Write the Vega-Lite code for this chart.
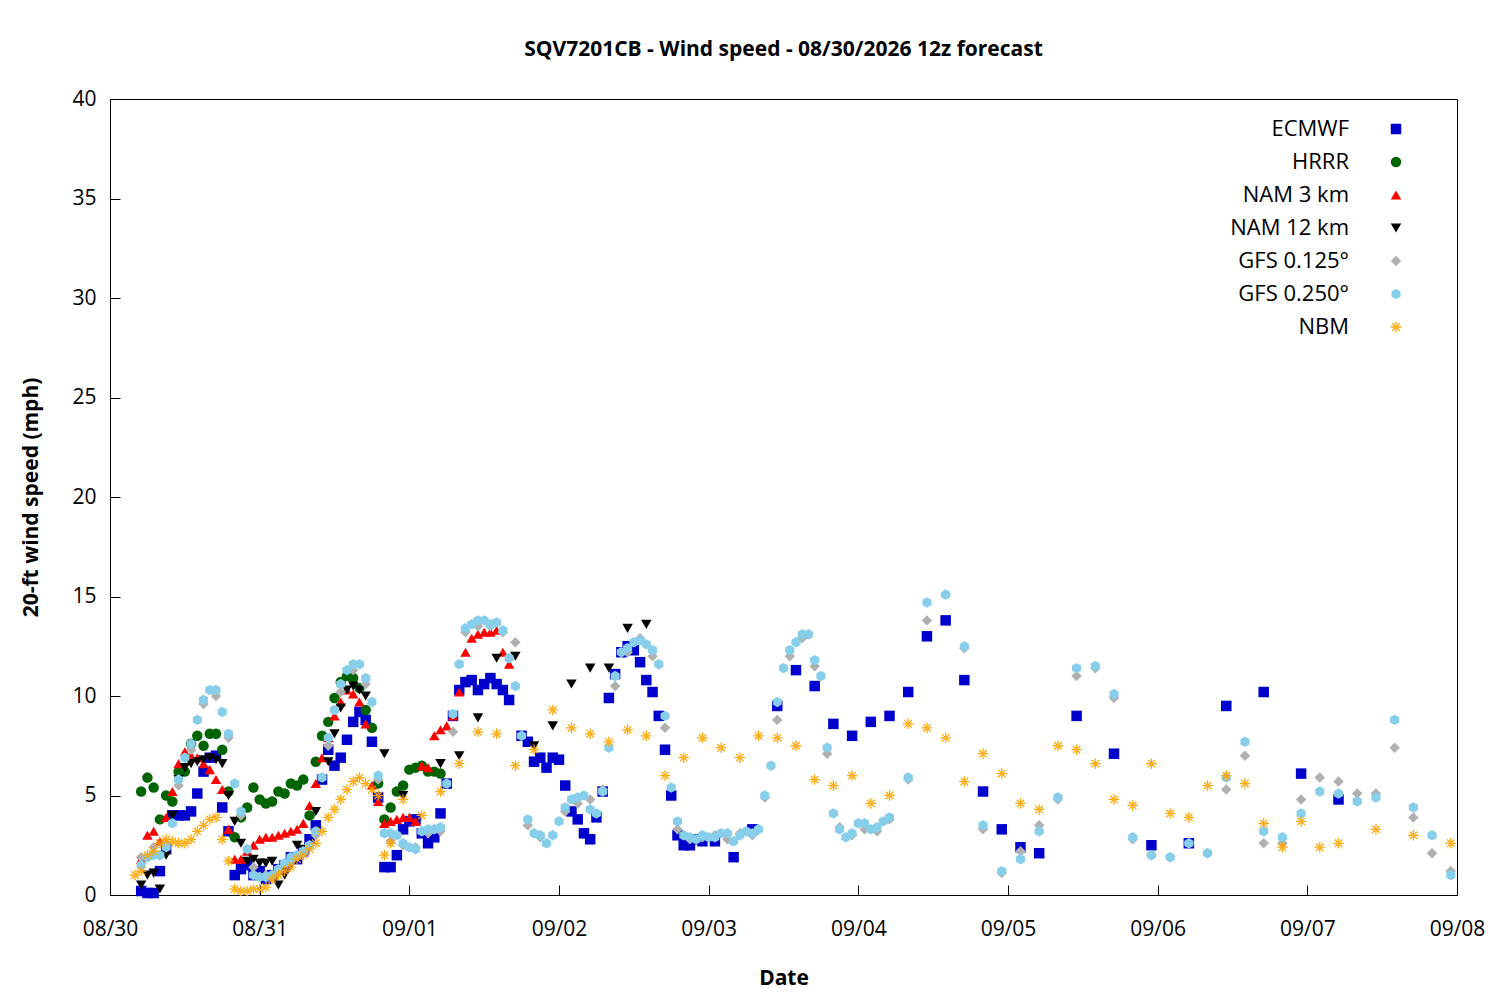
{
  "$schema": "https://vega.github.io/schema/vega-lite/v6.json",
  "width": 1347,
  "height": 796,
  "autosize": "none",
  "padding": {"left": 110, "top": 99, "right": 43, "bottom": 105},
  "background": "white",
  "title": {"text": "SQV7201CB - Wind speed - 08/30/2026 12z forecast", "font": "Open Sans", "fontSize": 21, "fontWeight": "bold", "offset": 28},
  "data": {"values": [
{"m":"E","t":5,"v":0.2},{"m":"E","t":6,"v":0.1},{"m":"E","t":7,"v":0.1},{"m":"E","t":8,"v":1.2},{"m":"E","t":9,"v":2.3},{"m":"E","t":10,"v":4.0},{"m":"E","t":11,"v":4.0},{"m":"E","t":12,"v":4.0},{"m":"E","t":13,"v":4.2},{"m":"E","t":14,"v":5.1},{"m":"E","t":15,"v":6.2},{"m":"E","t":16,"v":6.9},{"m":"E","t":17,"v":7.0},{"m":"E","t":18,"v":4.4},{"m":"E","t":19,"v":3.2},{"m":"E","t":20,"v":1.0},{"m":"E","t":21,"v":1.3},{"m":"E","t":22,"v":1.5},{"m":"E","t":23,"v":1.0},{"m":"E","t":24,"v":1.2},{"m":"E","t":25,"v":0.8},{"m":"E","t":26,"v":1.0},{"m":"E","t":27,"v":1.3},{"m":"E","t":28,"v":1.5},{"m":"E","t":29,"v":1.9},{"m":"E","t":30,"v":1.8},{"m":"E","t":31,"v":2.2},{"m":"E","t":32,"v":2.8},{"m":"E","t":33,"v":3.5},{"m":"E","t":34,"v":5.8},{"m":"E","t":35,"v":7.3},{"m":"E","t":36,"v":6.5},{"m":"E","t":37,"v":6.9},{"m":"E","t":38,"v":7.8},{"m":"E","t":39,"v":8.7},{"m":"E","t":40,"v":9.2},{"m":"E","t":41,"v":8.8},{"m":"E","t":42,"v":7.7},{"m":"E","t":43,"v":4.9},{"m":"E","t":44,"v":1.4},{"m":"E","t":45,"v":1.4},{"m":"E","t":46,"v":2.0},{"m":"E","t":47,"v":3.3},{"m":"E","t":48,"v":3.7},{"m":"E","t":49,"v":3.8},{"m":"E","t":50,"v":3.1},{"m":"E","t":51,"v":2.6},{"m":"E","t":52,"v":2.9},{"m":"E","t":53,"v":4.1},{"m":"E","t":54,"v":5.6},{"m":"E","t":55,"v":9.0},{"m":"E","t":56,"v":10.3},{"m":"E","t":57,"v":10.7},{"m":"E","t":58,"v":10.8},{"m":"E","t":59,"v":10.3},{"m":"E","t":60,"v":10.6},{"m":"E","t":61,"v":10.9},{"m":"E","t":62,"v":10.6},{"m":"E","t":63,"v":10.3},{"m":"E","t":64,"v":9.8},{"m":"E","t":66,"v":8.0},{"m":"E","t":67,"v":7.7},{"m":"E","t":68,"v":6.7},{"m":"E","t":69,"v":6.9},{"m":"E","t":70,"v":6.4},{"m":"E","t":71,"v":6.9},{"m":"E","t":72,"v":6.8},{"m":"E","t":73,"v":5.5},{"m":"E","t":74,"v":4.2},{"m":"E","t":75,"v":3.8},{"m":"E","t":76,"v":3.1},{"m":"E","t":77,"v":2.8},{"m":"E","t":78,"v":3.9},{"m":"E","t":79,"v":5.2},{"m":"E","t":80,"v":9.9},{"m":"E","t":81,"v":11.1},{"m":"E","t":82,"v":12.2},{"m":"E","t":83,"v":12.5},{"m":"E","t":84,"v":12.3},{"m":"E","t":85,"v":11.7},{"m":"E","t":86,"v":10.8},{"m":"E","t":87,"v":10.2},{"m":"E","t":88,"v":9.0},{"m":"E","t":89,"v":7.3},{"m":"E","t":90,"v":5.0},{"m":"E","t":91,"v":3.0},{"m":"E","t":92,"v":2.5},{"m":"E","t":93,"v":2.5},{"m":"E","t":94,"v":2.8},{"m":"E","t":95,"v":2.7},{"m":"E","t":97,"v":2.7},{"m":"E","t":100,"v":1.9},{"m":"E","t":103,"v":3.3},{"m":"E","t":107,"v":9.5},{"m":"E","t":110,"v":11.3},{"m":"E","t":113,"v":10.5},{"m":"E","t":116,"v":8.6},{"m":"E","t":119,"v":8.0},{"m":"E","t":122,"v":8.7},{"m":"E","t":125,"v":9.0},{"m":"E","t":128,"v":10.2},{"m":"E","t":131,"v":13.0},{"m":"E","t":134,"v":13.8},{"m":"E","t":137,"v":10.8},{"m":"E","t":140,"v":5.2},{"m":"E","t":143,"v":3.3},{"m":"E","t":146,"v":2.4},{"m":"E","t":149,"v":2.1},{"m":"E","t":155,"v":9.0},{"m":"E","t":161,"v":7.1},{"m":"E","t":167,"v":2.5},{"m":"E","t":173,"v":2.6},{"m":"E","t":179,"v":9.5},{"m":"E","t":185,"v":10.2},{"m":"E","t":191,"v":6.1},{"m":"E","t":197,"v":4.8},
{"m":"H","t":5,"v":5.2},{"m":"H","t":6,"v":5.9},{"m":"H","t":7,"v":5.4},{"m":"H","t":8,"v":3.8},{"m":"H","t":9,"v":5.0},{"m":"H","t":10,"v":4.7},{"m":"H","t":11,"v":6.2},{"m":"H","t":12,"v":6.2},{"m":"H","t":13,"v":7.6},{"m":"H","t":14,"v":8.0},{"m":"H","t":15,"v":7.5},{"m":"H","t":16,"v":8.1},{"m":"H","t":17,"v":8.1},{"m":"H","t":18,"v":7.3},{"m":"H","t":19,"v":5.2},{"m":"H","t":20,"v":2.9},{"m":"H","t":21,"v":3.9},{"m":"H","t":22,"v":4.4},{"m":"H","t":23,"v":5.4},{"m":"H","t":24,"v":4.8},{"m":"H","t":25,"v":4.6},{"m":"H","t":26,"v":4.7},{"m":"H","t":27,"v":5.2},{"m":"H","t":28,"v":5.1},{"m":"H","t":29,"v":5.6},{"m":"H","t":30,"v":5.5},{"m":"H","t":31,"v":5.8},{"m":"H","t":32,"v":4.0},{"m":"H","t":33,"v":6.7},{"m":"H","t":34,"v":8.0},{"m":"H","t":35,"v":8.7},{"m":"H","t":36,"v":9.9},{"m":"H","t":37,"v":10.7},{"m":"H","t":38,"v":11.0},{"m":"H","t":39,"v":10.9},{"m":"H","t":40,"v":10.4},{"m":"H","t":41,"v":9.3},{"m":"H","t":42,"v":8.4},{"m":"H","t":43,"v":5.6},{"m":"H","t":44,"v":3.8},{"m":"H","t":45,"v":4.4},{"m":"H","t":46,"v":5.2},{"m":"H","t":47,"v":5.5},{"m":"H","t":48,"v":6.3},{"m":"H","t":49,"v":6.4},{"m":"H","t":50,"v":6.5},{"m":"H","t":51,"v":6.2},{"m":"H","t":52,"v":6.2},{"m":"H","t":53,"v":6.1},
{"m":"N3","t":5,"v":1.8},{"m":"N3","t":6,"v":3.0},{"m":"N3","t":7,"v":3.2},{"m":"N3","t":8,"v":2.7},{"m":"N3","t":9,"v":3.9},{"m":"N3","t":10,"v":5.2},{"m":"N3","t":11,"v":6.6},{"m":"N3","t":12,"v":7.2},{"m":"N3","t":13,"v":7.0},{"m":"N3","t":14,"v":6.9},{"m":"N3","t":15,"v":6.6},{"m":"N3","t":16,"v":6.3},{"m":"N3","t":17,"v":5.8},{"m":"N3","t":18,"v":5.3},{"m":"N3","t":19,"v":3.3},{"m":"N3","t":20,"v":1.8},{"m":"N3","t":21,"v":1.8},{"m":"N3","t":22,"v":2.2},{"m":"N3","t":23,"v":2.5},{"m":"N3","t":24,"v":2.8},{"m":"N3","t":25,"v":2.9},{"m":"N3","t":26,"v":2.9},{"m":"N3","t":27,"v":3.0},{"m":"N3","t":28,"v":3.1},{"m":"N3","t":29,"v":3.2},{"m":"N3","t":30,"v":3.3},{"m":"N3","t":31,"v":3.6},{"m":"N3","t":32,"v":4.5},{"m":"N3","t":33,"v":5.6},{"m":"N3","t":34,"v":6.9},{"m":"N3","t":35,"v":7.9},{"m":"N3","t":36,"v":9.0},{"m":"N3","t":37,"v":9.7},{"m":"N3","t":38,"v":10.3},{"m":"N3","t":39,"v":10.1},{"m":"N3","t":40,"v":9.7},{"m":"N3","t":41,"v":8.6},{"m":"N3","t":42,"v":5.5},{"m":"N3","t":43,"v":4.7},{"m":"N3","t":44,"v":3.6},{"m":"N3","t":45,"v":3.7},{"m":"N3","t":46,"v":3.8},{"m":"N3","t":47,"v":3.9},{"m":"N3","t":48,"v":3.9},{"m":"N3","t":49,"v":3.7},{"m":"N3","t":50,"v":6.5},{"m":"N3","t":51,"v":6.4},{"m":"N3","t":52,"v":8.0},{"m":"N3","t":53,"v":8.3},{"m":"N3","t":54,"v":8.5},{"m":"N3","t":55,"v":9.0},{"m":"N3","t":56,"v":10.2},{"m":"N3","t":57,"v":12.2},{"m":"N3","t":58,"v":12.9},{"m":"N3","t":59,"v":13.1},{"m":"N3","t":60,"v":13.2},{"m":"N3","t":61,"v":13.2},{"m":"N3","t":62,"v":13.3},{"m":"N3","t":63,"v":12.2},{"m":"N3","t":64,"v":11.6},
{"m":"N12","t":5,"v":0.5},{"m":"N12","t":6,"v":1.0},{"m":"N12","t":7,"v":1.1},{"m":"N12","t":8,"v":0.3},{"m":"N12","t":9,"v":2.0},{"m":"N12","t":10,"v":4.0},{"m":"N12","t":11,"v":5.8},{"m":"N12","t":12,"v":6.4},{"m":"N12","t":13,"v":6.6},{"m":"N12","t":14,"v":6.7},{"m":"N12","t":15,"v":6.8},{"m":"N12","t":16,"v":6.9},{"m":"N12","t":17,"v":6.8},{"m":"N12","t":18,"v":6.6},{"m":"N12","t":19,"v":5.0},{"m":"N12","t":20,"v":3.7},{"m":"N12","t":21,"v":2.6},{"m":"N12","t":22,"v":1.7},{"m":"N12","t":23,"v":1.8},{"m":"N12","t":24,"v":1.6},{"m":"N12","t":25,"v":1.6},{"m":"N12","t":26,"v":1.7},{"m":"N12","t":27,"v":0.5},{"m":"N12","t":28,"v":1.0},{"m":"N12","t":29,"v":1.5},{"m":"N12","t":30,"v":2.5},{"m":"N12","t":31,"v":2.3},{"m":"N12","t":32,"v":2.4},{"m":"N12","t":33,"v":4.2},{"m":"N12","t":34,"v":5.8},{"m":"N12","t":35,"v":6.7},{"m":"N12","t":36,"v":8.1},{"m":"N12","t":37,"v":9.4},{"m":"N12","t":38,"v":10.3},{"m":"N12","t":39,"v":10.5},{"m":"N12","t":40,"v":10.3},{"m":"N12","t":41,"v":10.0},{"m":"N12","t":44,"v":7.1},{"m":"N12","t":47,"v":5.0},{"m":"N12","t":53,"v":6.6},{"m":"N12","t":56,"v":7.0},{"m":"N12","t":59,"v":8.9},{"m":"N12","t":62,"v":11.9},{"m":"N12","t":65,"v":12.0},{"m":"N12","t":68,"v":7.5},{"m":"N12","t":71,"v":8.5},{"m":"N12","t":74,"v":10.6},{"m":"N12","t":77,"v":11.4},{"m":"N12","t":80,"v":11.4},{"m":"N12","t":83,"v":13.4},{"m":"N12","t":86,"v":13.6},
{"m":"G1","t":5,"v":1.9},{"m":"G1","t":7,"v":2.4},{"m":"G1","t":9,"v":2.6},{"m":"G1","t":11,"v":5.5},{"m":"G1","t":13,"v":7.3},{"m":"G1","t":15,"v":9.6},{"m":"G1","t":17,"v":10.0},{"m":"G1","t":19,"v":7.9},{"m":"G1","t":21,"v":4.0},{"m":"G1","t":23,"v":1.4},{"m":"G1","t":25,"v":1.0},{"m":"G1","t":27,"v":1.2},{"m":"G1","t":29,"v":1.7},{"m":"G1","t":31,"v":2.1},{"m":"G1","t":33,"v":3.0},{"m":"G1","t":35,"v":7.5},{"m":"G1","t":37,"v":10.2},{"m":"G1","t":39,"v":11.3},{"m":"G1","t":41,"v":10.6},{"m":"G1","t":43,"v":5.8},{"m":"G1","t":45,"v":2.7},{"m":"G1","t":47,"v":2.5},{"m":"G1","t":49,"v":2.4},{"m":"G1","t":51,"v":3.1},{"m":"G1","t":53,"v":3.2},{"m":"G1","t":55,"v":8.2},{"m":"G1","t":57,"v":13.2},{"m":"G1","t":59,"v":13.5},{"m":"G1","t":61,"v":13.5},{"m":"G1","t":63,"v":13.2},{"m":"G1","t":65,"v":12.7},{"m":"G1","t":67,"v":3.5},{"m":"G1","t":69,"v":2.9},{"m":"G1","t":71,"v":3.0},{"m":"G1","t":73,"v":4.2},{"m":"G1","t":75,"v":4.6},{"m":"G1","t":77,"v":4.8},{"m":"G1","t":79,"v":5.3},{"m":"G1","t":81,"v":10.5},{"m":"G1","t":83,"v":12.2},{"m":"G1","t":85,"v":12.9},{"m":"G1","t":87,"v":12.0},{"m":"G1","t":89,"v":8.4},{"m":"G1","t":91,"v":3.3},{"m":"G1","t":93,"v":2.8},{"m":"G1","t":95,"v":2.9},{"m":"G1","t":97,"v":3.0},{"m":"G1","t":99,"v":2.8},{"m":"G1","t":101,"v":3.1},{"m":"G1","t":103,"v":3.0},{"m":"G1","t":105,"v":4.9},{"m":"G1","t":107,"v":8.8},{"m":"G1","t":109,"v":12.0},{"m":"G1","t":111,"v":12.9},{"m":"G1","t":113,"v":11.5},{"m":"G1","t":115,"v":7.1},{"m":"G1","t":117,"v":3.4},{"m":"G1","t":119,"v":3.0},{"m":"G1","t":121,"v":3.3},{"m":"G1","t":123,"v":3.2},{"m":"G1","t":125,"v":3.8},{"m":"G1","t":128,"v":5.8},{"m":"G1","t":131,"v":13.8},{"m":"G1","t":134,"v":15.1},{"m":"G1","t":137,"v":12.4},{"m":"G1","t":140,"v":3.3},{"m":"G1","t":143,"v":1.1},{"m":"G1","t":146,"v":2.2},{"m":"G1","t":149,"v":3.5},{"m":"G1","t":152,"v":4.8},{"m":"G1","t":155,"v":11.0},{"m":"G1","t":158,"v":11.4},{"m":"G1","t":161,"v":9.9},{"m":"G1","t":164,"v":2.8},{"m":"G1","t":167,"v":2.0},{"m":"G1","t":170,"v":1.9},{"m":"G1","t":173,"v":2.6},{"m":"G1","t":176,"v":2.1},{"m":"G1","t":179,"v":5.3},{"m":"G1","t":182,"v":7.0},{"m":"G1","t":185,"v":2.6},{"m":"G1","t":188,"v":2.6},{"m":"G1","t":191,"v":4.8},{"m":"G1","t":194,"v":5.9},{"m":"G1","t":197,"v":5.7},{"m":"G1","t":200,"v":5.1},{"m":"G1","t":203,"v":5.1},{"m":"G1","t":206,"v":7.4},{"m":"G1","t":209,"v":3.9},{"m":"G1","t":212,"v":2.1},{"m":"G1","t":215,"v":1.2},
{"m":"G2","t":5,"v":1.5},{"m":"G2","t":6,"v":1.9},{"m":"G2","t":7,"v":2.0},{"m":"G2","t":8,"v":2.0},{"m":"G2","t":9,"v":2.4},{"m":"G2","t":10,"v":3.6},{"m":"G2","t":11,"v":5.8},{"m":"G2","t":12,"v":6.9},{"m":"G2","t":13,"v":7.6},{"m":"G2","t":14,"v":8.8},{"m":"G2","t":15,"v":9.8},{"m":"G2","t":16,"v":10.3},{"m":"G2","t":17,"v":10.3},{"m":"G2","t":18,"v":9.2},{"m":"G2","t":19,"v":8.1},{"m":"G2","t":20,"v":5.6},{"m":"G2","t":21,"v":4.2},{"m":"G2","t":22,"v":2.3},{"m":"G2","t":23,"v":1.0},{"m":"G2","t":24,"v":0.9},{"m":"G2","t":25,"v":0.9},{"m":"G2","t":26,"v":1.0},{"m":"G2","t":27,"v":1.3},{"m":"G2","t":28,"v":1.6},{"m":"G2","t":29,"v":1.9},{"m":"G2","t":30,"v":2.0},{"m":"G2","t":31,"v":2.2},{"m":"G2","t":32,"v":2.5},{"m":"G2","t":33,"v":3.2},{"m":"G2","t":34,"v":5.9},{"m":"G2","t":35,"v":7.9},{"m":"G2","t":36,"v":9.3},{"m":"G2","t":37,"v":10.6},{"m":"G2","t":38,"v":11.3},{"m":"G2","t":39,"v":11.6},{"m":"G2","t":40,"v":11.6},{"m":"G2","t":41,"v":10.9},{"m":"G2","t":42,"v":9.7},{"m":"G2","t":43,"v":6.0},{"m":"G2","t":44,"v":3.1},{"m":"G2","t":45,"v":3.1},{"m":"G2","t":46,"v":3.0},{"m":"G2","t":47,"v":2.6},{"m":"G2","t":48,"v":2.4},{"m":"G2","t":49,"v":2.3},{"m":"G2","t":50,"v":3.2},{"m":"G2","t":51,"v":3.3},{"m":"G2","t":52,"v":3.3},{"m":"G2","t":53,"v":3.4},{"m":"G2","t":54,"v":5.6},{"m":"G2","t":55,"v":9.1},{"m":"G2","t":56,"v":11.6},{"m":"G2","t":57,"v":13.4},{"m":"G2","t":58,"v":13.6},{"m":"G2","t":59,"v":13.8},{"m":"G2","t":60,"v":13.8},{"m":"G2","t":61,"v":13.6},{"m":"G2","t":62,"v":13.7},{"m":"G2","t":63,"v":13.3},{"m":"G2","t":64,"v":11.9},{"m":"G2","t":65,"v":10.5},{"m":"G2","t":66,"v":8.0},{"m":"G2","t":67,"v":3.8},{"m":"G2","t":68,"v":3.1},{"m":"G2","t":69,"v":3.0},{"m":"G2","t":70,"v":2.6},{"m":"G2","t":71,"v":3.0},{"m":"G2","t":72,"v":3.7},{"m":"G2","t":73,"v":4.4},{"m":"G2","t":74,"v":4.8},{"m":"G2","t":75,"v":4.9},{"m":"G2","t":76,"v":5.0},{"m":"G2","t":77,"v":4.3},{"m":"G2","t":78,"v":4.1},{"m":"G2","t":79,"v":5.2},{"m":"G2","t":80,"v":7.4},{"m":"G2","t":81,"v":11.0},{"m":"G2","t":82,"v":12.2},{"m":"G2","t":83,"v":12.4},{"m":"G2","t":84,"v":12.7},{"m":"G2","t":85,"v":12.8},{"m":"G2","t":86,"v":12.6},{"m":"G2","t":87,"v":12.3},{"m":"G2","t":88,"v":11.6},{"m":"G2","t":89,"v":9.0},{"m":"G2","t":90,"v":5.4},{"m":"G2","t":91,"v":3.7},{"m":"G2","t":92,"v":3.0},{"m":"G2","t":93,"v":2.9},{"m":"G2","t":94,"v":2.8},{"m":"G2","t":95,"v":3.0},{"m":"G2","t":96,"v":2.9},{"m":"G2","t":97,"v":2.9},{"m":"G2","t":98,"v":3.1},{"m":"G2","t":99,"v":3.1},{"m":"G2","t":100,"v":2.7},{"m":"G2","t":101,"v":3.0},{"m":"G2","t":102,"v":3.2},{"m":"G2","t":103,"v":3.1},{"m":"G2","t":104,"v":3.3},{"m":"G2","t":105,"v":5.0},{"m":"G2","t":106,"v":6.5},{"m":"G2","t":107,"v":9.7},{"m":"G2","t":108,"v":11.4},{"m":"G2","t":109,"v":12.3},{"m":"G2","t":110,"v":12.7},{"m":"G2","t":111,"v":13.1},{"m":"G2","t":112,"v":13.1},{"m":"G2","t":113,"v":11.8},{"m":"G2","t":114,"v":11.0},{"m":"G2","t":115,"v":7.4},{"m":"G2","t":116,"v":4.1},{"m":"G2","t":117,"v":3.3},{"m":"G2","t":118,"v":2.9},{"m":"G2","t":119,"v":3.1},{"m":"G2","t":120,"v":3.6},{"m":"G2","t":121,"v":3.6},{"m":"G2","t":122,"v":3.3},{"m":"G2","t":123,"v":3.4},{"m":"G2","t":124,"v":3.7},{"m":"G2","t":125,"v":3.9},{"m":"G2","t":128,"v":5.9},{"m":"G2","t":131,"v":14.7},{"m":"G2","t":134,"v":15.1},{"m":"G2","t":137,"v":12.5},{"m":"G2","t":140,"v":3.5},{"m":"G2","t":143,"v":1.2},{"m":"G2","t":146,"v":1.8},{"m":"G2","t":149,"v":3.2},{"m":"G2","t":152,"v":4.9},{"m":"G2","t":155,"v":11.4},{"m":"G2","t":158,"v":11.5},{"m":"G2","t":161,"v":10.1},{"m":"G2","t":164,"v":2.9},{"m":"G2","t":167,"v":2.0},{"m":"G2","t":170,"v":1.9},{"m":"G2","t":173,"v":2.6},{"m":"G2","t":176,"v":2.1},{"m":"G2","t":179,"v":5.9},{"m":"G2","t":182,"v":7.7},{"m":"G2","t":185,"v":3.2},{"m":"G2","t":188,"v":2.9},{"m":"G2","t":191,"v":4.1},{"m":"G2","t":194,"v":5.2},{"m":"G2","t":197,"v":5.1},{"m":"G2","t":200,"v":4.7},{"m":"G2","t":203,"v":4.9},{"m":"G2","t":206,"v":8.8},{"m":"G2","t":209,"v":4.4},{"m":"G2","t":212,"v":3.0},{"m":"G2","t":215,"v":1.0},
{"m":"NBM","t":4,"v":1.0},{"m":"NBM","t":5,"v":1.2},{"m":"NBM","t":6,"v":2.0},{"m":"NBM","t":7,"v":2.2},{"m":"NBM","t":8,"v":2.6},{"m":"NBM","t":9,"v":2.8},{"m":"NBM","t":10,"v":2.7},{"m":"NBM","t":11,"v":2.6},{"m":"NBM","t":12,"v":2.6},{"m":"NBM","t":13,"v":2.8},{"m":"NBM","t":14,"v":3.2},{"m":"NBM","t":15,"v":3.5},{"m":"NBM","t":16,"v":3.8},{"m":"NBM","t":17,"v":3.9},{"m":"NBM","t":18,"v":2.8},{"m":"NBM","t":19,"v":1.7},{"m":"NBM","t":20,"v":0.3},{"m":"NBM","t":21,"v":0.2},{"m":"NBM","t":22,"v":0.2},{"m":"NBM","t":23,"v":0.3},{"m":"NBM","t":24,"v":0.3},{"m":"NBM","t":25,"v":0.4},{"m":"NBM","t":26,"v":0.8},{"m":"NBM","t":27,"v":1.0},{"m":"NBM","t":28,"v":1.2},{"m":"NBM","t":29,"v":1.4},{"m":"NBM","t":30,"v":1.8},{"m":"NBM","t":31,"v":2.0},{"m":"NBM","t":32,"v":2.3},{"m":"NBM","t":33,"v":2.6},{"m":"NBM","t":34,"v":3.2},{"m":"NBM","t":35,"v":3.9},{"m":"NBM","t":36,"v":4.3},{"m":"NBM","t":37,"v":4.8},{"m":"NBM","t":38,"v":5.3},{"m":"NBM","t":39,"v":5.7},{"m":"NBM","t":40,"v":5.9},{"m":"NBM","t":41,"v":5.6},{"m":"NBM","t":42,"v":5.3},{"m":"NBM","t":43,"v":5.0},{"m":"NBM","t":44,"v":2.0},{"m":"NBM","t":45,"v":2.6},{"m":"NBM","t":47,"v":4.8},{"m":"NBM","t":50,"v":4.0},{"m":"NBM","t":53,"v":5.2},{"m":"NBM","t":56,"v":6.6},{"m":"NBM","t":59,"v":8.2},{"m":"NBM","t":62,"v":8.1},{"m":"NBM","t":65,"v":6.5},{"m":"NBM","t":68,"v":7.3},{"m":"NBM","t":71,"v":9.3},{"m":"NBM","t":74,"v":8.4},{"m":"NBM","t":77,"v":8.1},{"m":"NBM","t":80,"v":7.7},{"m":"NBM","t":83,"v":8.3},{"m":"NBM","t":86,"v":8.0},{"m":"NBM","t":89,"v":6.0},{"m":"NBM","t":92,"v":6.9},{"m":"NBM","t":95,"v":7.9},{"m":"NBM","t":98,"v":7.4},{"m":"NBM","t":101,"v":6.9},{"m":"NBM","t":104,"v":8.0},{"m":"NBM","t":107,"v":7.9},{"m":"NBM","t":110,"v":7.5},{"m":"NBM","t":113,"v":5.8},{"m":"NBM","t":116,"v":5.5},{"m":"NBM","t":119,"v":6.0},{"m":"NBM","t":122,"v":4.6},{"m":"NBM","t":125,"v":5.0},{"m":"NBM","t":128,"v":8.6},{"m":"NBM","t":131,"v":8.4},{"m":"NBM","t":134,"v":7.9},{"m":"NBM","t":137,"v":5.7},{"m":"NBM","t":140,"v":7.1},{"m":"NBM","t":143,"v":6.1},{"m":"NBM","t":146,"v":4.6},{"m":"NBM","t":149,"v":4.3},{"m":"NBM","t":152,"v":7.5},{"m":"NBM","t":155,"v":7.3},{"m":"NBM","t":158,"v":6.6},{"m":"NBM","t":161,"v":4.8},{"m":"NBM","t":164,"v":4.5},{"m":"NBM","t":167,"v":6.6},{"m":"NBM","t":170,"v":4.1},{"m":"NBM","t":173,"v":3.9},{"m":"NBM","t":176,"v":5.5},{"m":"NBM","t":179,"v":6.0},{"m":"NBM","t":182,"v":5.6},{"m":"NBM","t":185,"v":3.6},{"m":"NBM","t":188,"v":2.4},{"m":"NBM","t":191,"v":3.7},{"m":"NBM","t":194,"v":2.4},{"m":"NBM","t":197,"v":2.6},{"m":"NBM","t":203,"v":3.3},{"m":"NBM","t":209,"v":3.0},{"m":"NBM","t":215,"v":2.6}
  ]},
  "mark": {"type": "point", "filled": true, "opacity": 1, "size": 110},
  "encoding": {
    "x": {"field": "t", "type": "quantitative", "scale": {"domain": [0, 216], "nice": false},
      "axis": {"values": [0, 24, 48, 72, 96, 120, 144, 168, 192, 216], "labelExpr": "['08/30','08/31','09/01','09/02','09/03','09/04','09/05','09/06','09/07','09/08'][round(datum.value/24)]", "title": "Date", "titlePadding": 28, "labelPadding": 33, "labelFlush": false, "labelBound": false}},
    "y": {"field": "v", "type": "quantitative", "scale": {"domain": [0, 40], "nice": false},
      "axis": {"values": [0, 5, 10, 15, 20, 25, 30, 35, 40], "title": "20-ft wind speed (mph)", "titlePadding": 30, "labelPadding": 24, "labelFlush": false}},
    "color": {"field": "m", "type": "nominal",
      "scale": {"domain": ["E", "H", "N3", "N12", "G1", "G2", "NBM"], "range": ["#0000cc", "#006400", "#ff0000", "#000000", "#b0b0b0", "#87ceeb", "#ffa500"]},
      "legend": {"title": null, "orient": "none", "legendX": 1275, "legendY": 19, "labelAlign": "right", "labelOffset": -58, "rowPadding": 11, "labelFontSize": 22, "symbolSize": 110,
        "labelExpr": "{'E':'ECMWF','H':'HRRR','N3':'NAM 3 km','N12':'NAM 12 km','G1':'GFS 0.125°','G2':'GFS 0.250°','NBM':'NBM'}[datum.label]"}},
    "shape": {"field": "m", "type": "nominal",
      "scale": {"domain": ["E", "H", "N3", "N12", "G1", "G2", "NBM"], "range": ["square", "circle", "triangle-up", "triangle-down", "diamond", "M0,-1L0.866,-0.5L0.866,0.5L0,1L-0.866,0.5L-0.866,-0.5Z", "M-1,-0.12H1V0.12H-1Z M-0.12,-1H0.12V1H-0.12Z M-0.62,-0.79L0.79,0.62L0.62,0.79L-0.79,-0.62Z M0.79,-0.62L0.62,-0.79L-0.79,0.62L-0.62,0.79Z"]}}
  },
  "config": {
    "font": "Open Sans",
    "view": {"stroke": "black", "strokeWidth": 1},
    "axis": {"grid": false, "domainColor": "black", "tickColor": "black", "labelColor": "black", "titleColor": "black", "labelFontSize": 21, "titleFontSize": 21, "titleFontWeight": "bold", "tickSize": -10, "labelFont": "Open Sans", "titleFont": "Open Sans"},
    "legend": {"labelFont": "Open Sans", "labelColor": "black"}
  }
}
